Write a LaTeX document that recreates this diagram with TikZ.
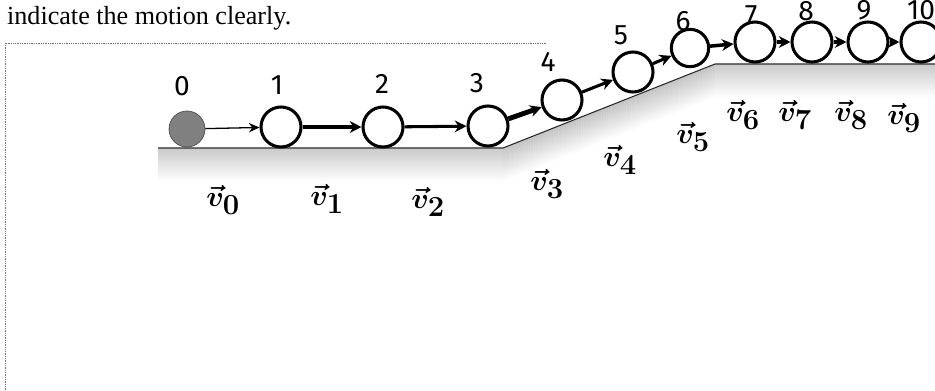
\documentclass[tikz,border=0pt]{standalone}
\usepackage{fontspec}
\setmainfont{Liberation Serif}
\setsansfont{Fira Sans}
\usepackage{amsmath}
\usetikzlibrary{arrows.meta}
\definecolor{ballgray}{RGB}{128,128,128}
\tikzset{
  ball/.style      = {circle,draw,fill=white,line width=2.6pt,
                      minimum size=1.2cm,inner sep=0pt},
  startball/.style = {circle,draw=black!70,line width=0.6pt,fill=ballgray,
                      minimum size=1.08cm,inner sep=0pt},
  vel/.style       = {-{Stealth[length=10pt,width=10pt]},line width=2.6pt},
  tag/.style       = {font=\sffamily\fontsize{24}{26}\selectfont},
  vlab/.style      = {font=\boldmath\fontsize{35}{37}\selectfont},
  ground/.style    = {line width=0.9pt,black!85},
}

\begin{document}
\begin{tikzpicture}[x=0.03cm,y=-0.03cm]
  \useasboundingbox (0,0) rectangle (935,390);

  % question text and answer box
  \node[anchor=base west,font=\fontsize{22.3}{25}\selectfont] (prompt) at (3,24)
    {indicate the motion clearly.};
  \draw[densely dotted,black!55,line width=0.5pt] (5,390) -- (5,43) -- (547,43);

  % ground with soft shadow underneath
  \coordinate (g0) at (158,148);
  \coordinate (g1) at (503,148);
  \coordinate (g2) at (715,64);
  \coordinate (g3) at (935,64);
  \foreach \i in {1,...,34}{
    \pgfmathsetmacro\shadeamt{24*(1-\i/34)}
    \draw[black!\shadeamt,line width=1pt]
      ([shift={(0,\i)}]g0) -- ([shift={(0,\i)}]g1)
      -- ([shift={(0,\i)}]g2) -- ([shift={(0,\i)}]g3);
  }
  \draw[ground] (g0) -- (g1) -- (g2) -- (g3);

  % the balls
  \node[startball] (b0) at (187,129) {};
  \node[ball] (b1) at (281,127) {};
  \node[ball] (b2) at (383,127) {};
  \node[ball] (b3) at (488,126) {};
  \node[ball] (b4) at (562,100) {};
  \node[ball] (b5) at (633,72) {};
  \node[ball,minimum size=1.12cm] (b6) at (690,48) {};
  \node[ball] (b7) at (755,42) {};
  \node[ball] (b8) at (812,42) {};
  \node[ball] (b9) at (868,42) {};
  \node[ball] (b10) at (921,42) {};

  % displacement arrows
  \draw[vel,line width=1.1pt,-{Stealth[length=9pt,width=8pt]}] (b0) -- (b1);
  \draw[vel] (b1) -- (b2);
  \draw[vel] (b2) -- (b3);
  \draw[vel,line width=4.2pt] (b3) -- (b4);
  \draw[vel] (b4) -- (b5);
  \draw[vel] (b5) -- (b6);
  \draw[vel,line width=3pt] (b6) -- (b7);
  \draw[vel,line width=3pt] (b7) -- (b8);
  \draw[vel,line width=3pt] (b8) -- (b9);
  \draw[vel,line width=3pt] (b9) -- (b10);

  % frame numbers
  \foreach \n/\x/\y in {0/182/86,1/277/85,2/382/84,3/477/83,4/548/62,
                        5/621/35,6/683/21,7/751/15,8/806/11,9/864/10,10/921/10}
    \node[tag] (n\n) at (\x,\y) {\n};

  % velocity labels
  \foreach \n/\x/\y in {0/223/200,1/327/199,2/428/202,3/547/184,4/620/160,
                        5/693/137,6/743/115,7/795/115,8/851/115,9/904/118}
    \node[vlab] (v\n) at (\x,\y) {$\vec{v}_{\n}$};
\end{tikzpicture}
\end{document}
